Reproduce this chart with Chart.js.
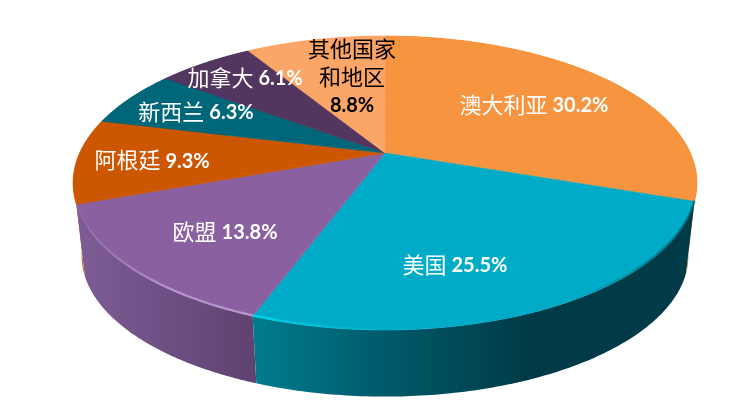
<!DOCTYPE html>
<html><head><meta charset="utf-8">
<style>html,body{margin:0;padding:0;background:#fff}canvas{display:block}</style>
<script src="https://cdn.jsdelivr.net/npm/chart.js@4"></script>
</head><body><canvas id="c" width="750" height="416"></canvas>
<script>
const categories = ['澳大利亚','美国','欧盟','阿根廷','新西兰','加拿大','其他国家和地区'];
const shares = [30.2,25.5,13.8,9.3,6.3,6.1,8.8];
const labelLines = [['澳大利亚'],['美国'],['欧盟'],['阿根廷'],['新西兰'],['加拿大'],['其他国家','和地区']];
const topColors = ['#F79440','#00ABC7','#8A60A0','#CC5700','#00677A','#533660','#FBA566'];
const labelColors = ['#fff','#fff','#fff','#fff','#fff','#fff','#000'];
// label anchors on the unit disk of the pie (u right, v toward the viewer)
const labelDisk = [[.524,-.3665],[.197,.684],[-.470,.503],[-.755,.05],[-.658,-.309],[-.514,-.597],[-.121,-.597]];
// side wall gradient (left to right screen colours)
const wallStops = [
 [[0,'#D9752A'],[1,'#D0701F']],
 [[0,'#007C8E'],[.3,'#005A6A'],[.62,'#003B47'],[1,'#003B47']],
 [[0,'#7F5C96'],[.5,'#6E4F84'],[1,'#5F4270']],
 [[0,'#E06C10'],[1,'#E06C10']],
 [[0,'#00566A'],[1,'#00566A']],
 [[0,'#46285A'],[1,'#46285A']],
 [[0,'#E08A50'],[1,'#E08A50']]
];
const k = .204;
const topDisc = {cx:385, cy:153, A:305.4, B:140.9};
const baseDisc = {cx:385, cy:227, A:297, B:135};
function proj(d,u,v){const w=1-k*v;return [d.cx+d.A*u/w, d.cy+d.B*v/w];}
function arcPts(d,a0,a1,n){const p=[];for(let i=0;i<=n;i++){const a=a0+(a1-a0)*i/n;p.push(proj(d,Math.cos(a),Math.sin(a)));}return p;}

const pie3d = {
 id:'pie3d',
 beforeDatasetsDraw(chart){
  const ctx=chart.ctx, arcs=chart.getDatasetMeta(0).data;
  const mid=e=>(e.startAngle+e.endAngle)/2;
  const order=arcs.map((e,i)=>i).sort((a,b)=>Math.sin(mid(arcs[a]))-Math.sin(mid(arcs[b])));
  ctx.save();
  // walls
  for(const i of order){
    const e=arcs[i], t=arcPts(topDisc,e.startAngle,e.endAngle,120), b=arcPts(baseDisc,e.startAngle,e.endAngle,120);
    const xs=t.concat(b).map(p=>p[0]);
    const g=ctx.createLinearGradient(Math.min(...xs),0,Math.max(...xs),0);
    wallStops[i].forEach(s=>g.addColorStop(s[0],s[1]));
    ctx.beginPath();
    t.forEach((p,j)=>j?ctx.lineTo(p[0],p[1]):ctx.moveTo(p[0],p[1]));
    b.reverse().forEach(p=>ctx.lineTo(p[0],p[1]));
    ctx.closePath(); ctx.fillStyle=g; ctx.fill();
  }
  // top faces
  arcs.forEach((e,i)=>{
    const t=arcPts(topDisc,e.startAngle,e.endAngle,160), c=proj(topDisc,0,0);
    ctx.beginPath(); ctx.moveTo(c[0],c[1]);
    t.forEach(p=>ctx.lineTo(p[0],p[1])); ctx.closePath();
    ctx.fillStyle=topColors[i]; ctx.fill();
    ctx.strokeStyle=topColors[i]; ctx.lineWidth=.6; ctx.stroke();
  });
  // bevel highlights on the front rim
  const rim=(i,stops,x0,x1)=>{
    const e=arcs[i], t=arcPts(topDisc,e.startAngle,e.endAngle,120);
    const g=ctx.createLinearGradient(x0,0,x1,0);
    stops.forEach(s=>g.addColorStop(s[0],s[1]));
    ctx.beginPath(); t.forEach((p,j)=>j?ctx.lineTo(p[0],p[1]-.8):ctx.moveTo(p[0],p[1]-.8));
    ctx.strokeStyle=g; ctx.lineWidth=2.2; ctx.stroke();
  };
  rim(1,[[0,'rgba(0,215,240,.95)'],[.22,'rgba(0,190,215,.5)'],[.4,'rgba(0,170,195,0)'],[.7,'rgba(0,60,75,0)'],[1,'rgba(0,60,75,.55)']],255,695);
  rim(2,[[0,'rgba(175,140,200,.15)'],[.5,'rgba(190,155,210,.85)'],[1,'rgba(190,155,210,.9)']],85,255);
  // labels
  labelLines.forEach((lines,i)=>{
    const pos=proj(topDisc,labelDisk[i][0],labelDisk[i][1]), val=shares[i].toFixed(1)+'%';
    ctx.fillStyle=labelColors[i]; ctx.textBaseline='middle'; ctx.textAlign='left';
    const cjk='22px "Noto Sans CJK SC"', num='bold 20px Lato';
    if(lines.length>1){
      const ys=[pos[1]-29,pos[1]-1,pos[1]+28];
      [lines[0],lines[1],val].forEach((s,j)=>{
        ctx.font=j<2?cjk:num;
        ctx.fillText(s,pos[0]-ctx.measureText(s).width/2,ys[j]);
      });
    } else {
      ctx.font=cjk; const w1=ctx.measureText(lines[0]).width;
      ctx.font=num; const w2=ctx.measureText(val).width;
      const x=pos[0]-(w1+5+w2)/2;
      ctx.font=cjk; ctx.fillText(lines[0],x,pos[1]);
      ctx.font=num; ctx.fillText(val,x+w1+5,pos[1]+1);
    }
  });
  ctx.restore();
  return false;
 }
};
new Chart(document.getElementById('c'),{
 type:'pie',
 data:{labels:categories,datasets:[{data:shares,backgroundColor:topColors,borderWidth:0}]},
 options:{responsive:false,animation:false,rotation:0,layout:{padding:0},
  plugins:{legend:{display:false},tooltip:{enabled:false}}},
 plugins:[pie3d]
});
</script></body></html>
